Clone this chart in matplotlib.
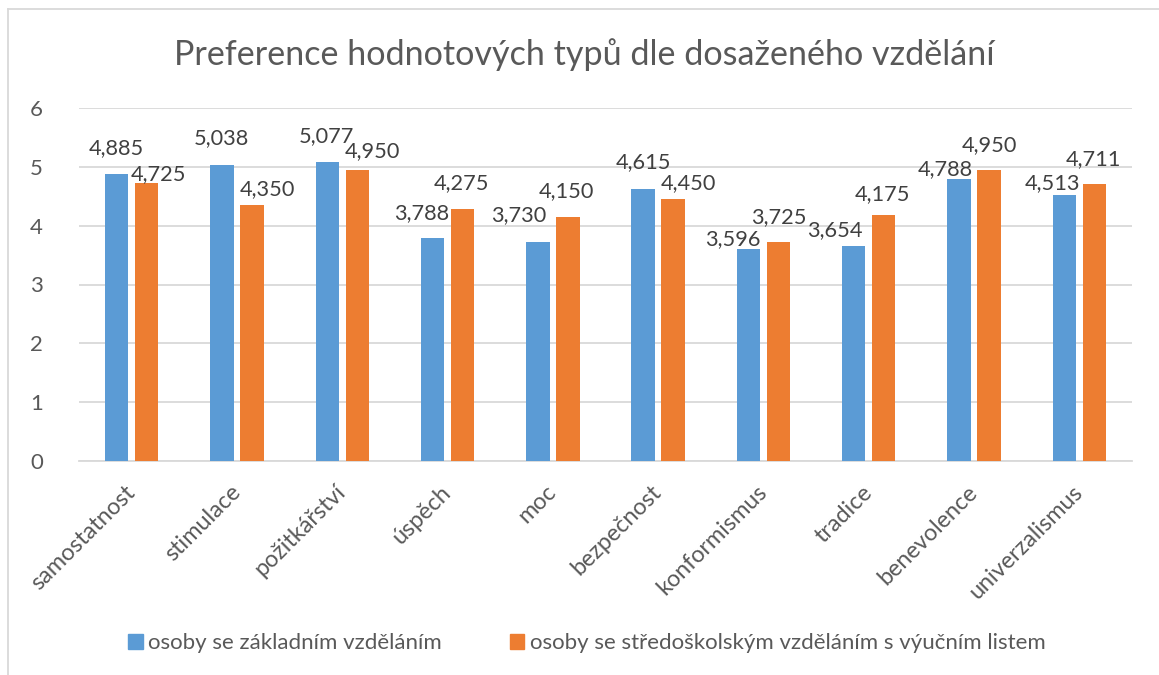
import matplotlib
matplotlib.use("Agg")
import matplotlib.pyplot as plt
import numpy as np
from matplotlib.lines import Line2D

categories = ["samostatnost", "stimulace", "požitkářství", "úspěch", "moc",
              "bezpečnost", "konformismus", "tradice", "benevolence", "univerzalismus"]
zakladni = [4.885, 5.038, 5.077, 3.788, 3.730, 4.615, 3.596, 3.654, 4.788, 4.513]
stredoskolske = [4.725, 4.350, 4.950, 4.275, 4.150, 4.450, 3.725, 4.175, 4.950, 4.711]
series_names = ["osoby se základním vzděláním",
                "osoby se středoškolským vzděláním s výučním listem"]
title = "Preference hodnotových typů dle dosaženého vzdělání"
yticks = [0, 1, 2, 3, 4, 5, 6]

# label offsets (pixels) relative to bar top centre
off_blue = [(0, 26), (-1, 27), (-1, 26), (-11, 25), (-19, 26), (0, 27), (-16, 10), (-19, 16), (-14, 10), (-12, 12)]
off_orange = [(12, 9), (15, 16), (15, 19), (-1, 26), (-1, 26), (15, 16), (0, 25), (-1, 21), (0, 25), (-1, 25)]

BLUE = "#5B9BD5"
ORANGE = "#ED7D31"
TXT = "#595959"
GRID = "#D9D9D9"
FONT = "Lato"
FS = 15.7

plt.rcParams['font.family'] = [FONT, 'DejaVu Sans']

W, H = 1159, 675
fig = plt.figure(figsize=(W / 100, H / 100), dpi=100)
ax = fig.add_axes([79 / W, 1 - 461 / H, 1053 / W, 353 / H])

x = np.arange(len(categories))
bw = 0.223
d = 0.1425
ax.bar(x - d, zakladni, bw, color=BLUE, zorder=3)
ax.bar(x + d, stredoskolske, bw, color=ORANGE, zorder=3)

fmt = lambda v: f"{v:.3f}".replace(".", ",")
for xi, v, (dx, dy) in zip(x - d, zakladni, off_blue):
    ax.annotate(fmt(v), (xi, v), xytext=(dx, dy), textcoords="offset pixels",
                ha="center", va="center", fontsize=FS, color="#404040", zorder=4)
for xi, v, (dx, dy) in zip(x + d, stredoskolske, off_orange):
    ax.annotate(fmt(v), (xi, v), xytext=(dx, dy), textcoords="offset pixels",
                ha="center", va="center", fontsize=FS, color="#404040", zorder=4)

ax.set_xlim(-0.5, len(categories) - 0.5)
ax.set_ylim(0, 6)
ax.set_yticks(yticks)
ax.set_yticklabels([str(t) for t in yticks], fontsize=16, color=TXT)
ax.yaxis.grid(True, color=GRID, linewidth=1.3, zorder=0)
ax.tick_params(axis="y", length=0, pad=26)
ax.tick_params(axis="x", length=0, pad=20)
ax.set_xticks(x)
ax.set_xticklabels(categories, rotation=45, ha="right", va="center",
                   rotation_mode="anchor", fontsize=16.8, color=TXT)
for s in ["top", "right", "left"]:
    ax.spines[s].set_visible(False)
ax.spines["bottom"].set_color(GRID)
ax.spines["bottom"].set_linewidth(1.3)
ax.set_facecolor("none")

fig.text(0.5 * (172 + 997) / W, 1 - 55 / H, title, ha="center", va="center",
         fontsize=24.6, color=TXT)

handles = [plt.Rectangle((0, 0), 1, 1, color=BLUE), plt.Rectangle((0, 0), 1, 1, color=ORANGE)]
fig.legend(handles, series_names, loc="center", bbox_to_anchor=(587 / W, 1 - 643 / H),
           ncol=2, frameon=False, fontsize=16, labelcolor=TXT,
           handlelength=0.65, handleheight=0.65, handletextpad=0.25, columnspacing=3.05)

# chart area border (left and top edges visible)
fig.add_artist(Line2D([8 / W, 8 / W], [0, 1 - 9 / H], transform=fig.transFigure, color=GRID, lw=1.3))
fig.add_artist(Line2D([8 / W, 1], [1 - 9 / H, 1 - 9 / H], transform=fig.transFigure, color=GRID, lw=1.3))

fig.savefig("out.png", dpi=100, facecolor="white")
